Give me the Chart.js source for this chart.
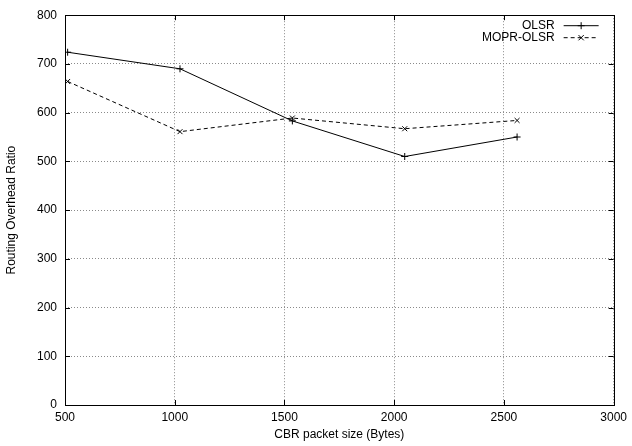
<!DOCTYPE html>
<html>
<head>
<meta charset="utf-8">
<script src="https://cdn.jsdelivr.net/npm/chart.js@4/dist/chart.umd.min.js"></script>
<style>
  html, body { margin: 0; padding: 0; background: #fff; }
  canvas { display: block; }
</style>
</head>
<body>
<canvas id="plot" width="632" height="446"></canvas>
<script>
// packet sizes (Bytes) and routing overhead ratio per protocol
let packetSizes = [512, 1024, 1536, 2048, 2560];
let olsr = [724, 690, 583, 510, 550];
let moprOlsr = [664, 561, 589, 567, 584];
let seriesNames = ['OLSR', 'MOPR-OLSR'];

function pairs(xs, ys) {
    return xs.map(function (x, i) { return {x: x, y: ys[i]}; });
}

Chart.defaults.font.family = "'Liberation Sans', Arial, sans-serif";
Chart.defaults.font.size = 12;
Chart.defaults.color = '#000';

// gnuplot style frame: full border + inward ticks on all sides
let framePlugin = {
    id: 'frame',
    afterDraw: function (chart) {
        let ctx = chart.ctx;
        let a = chart.chartArea;
        let xs = chart.scales.x, ys = chart.scales.y;
        let tl = 5;
        ctx.save();
        ctx.strokeStyle = '#000';
        ctx.lineWidth = 1;
        ctx.setLineDash([]);
        ctx.beginPath();
        xs.ticks.forEach(function (t) {
            let px = Math.round(xs.getPixelForValue(t.value)) + 0.5;
            ctx.moveTo(px, a.bottom); ctx.lineTo(px, a.bottom - tl);
            ctx.moveTo(px, a.top); ctx.lineTo(px, a.top + tl);
        });
        ys.ticks.forEach(function (t) {
            let py = Math.round(ys.getPixelForValue(t.value)) + 0.5;
            ctx.moveTo(a.left, py); ctx.lineTo(a.left + tl, py);
            ctx.moveTo(a.right, py); ctx.lineTo(a.right - tl, py);
        });
        ctx.stroke();
        ctx.strokeRect(Math.round(a.left) + 0.5, Math.round(a.top) + 0.5,
                       Math.round(a.right - a.left), Math.round(a.bottom - a.top));

        // key, top right
        let ds = chart.data.datasets;
        let textRight = a.right - 59;
        let y0 = a.top + 10;
        ctx.font = "12px 'Liberation Sans', Arial, sans-serif";
        ctx.textAlign = 'right';
        ctx.textBaseline = 'middle';
        ctx.fillStyle = '#000';
        ds.forEach(function (d, i) {
            let y = y0 + i * 12 + 0.5;
            ctx.fillText(d.label, textRight, y);
            let x1 = textRight + 9, x2 = a.right - 15;
            ctx.setLineDash(d.borderDash || []);
            ctx.beginPath();
            ctx.moveTo(x1, y); ctx.lineTo(x2, y);
            ctx.stroke();
            ctx.setLineDash([]);
            let cx = (x1 + x2) / 2, r = 3.5;
            ctx.beginPath();
            if (d.pointStyle === 'cross') {
                ctx.moveTo(cx - r, y); ctx.lineTo(cx + r, y);
                ctx.moveTo(cx, y - r); ctx.lineTo(cx, y + r);
            } else {
                let q = r * 0.75;
                ctx.moveTo(cx - q, y - q); ctx.lineTo(cx + q, y + q);
                ctx.moveTo(cx - q, y + q); ctx.lineTo(cx + q, y - q);
            }
            ctx.stroke();
        });
        ctx.restore();
    }
};

let ctx = document.getElementById('plot').getContext('2d');
let chart = new Chart(ctx, {
    type: 'line',
    data: {
        datasets: [{
            label: seriesNames[0],
            data: pairs(packetSizes, olsr),
            borderColor: '#000',
            borderWidth: 1,
            pointStyle: 'cross',
            pointRadius: 3.5,
            pointBorderColor: '#000',
            pointBorderWidth: 1,
            fill: false,
            tension: 0
        }, {
            label: seriesNames[1],
            data: pairs(packetSizes, moprOlsr),
            borderColor: '#000',
            borderWidth: 1,
            borderDash: [4, 3],
            pointStyle: 'crossRot',
            pointRadius: 3.5,
            pointBorderColor: '#000',
            pointBorderWidth: 1,
            fill: false,
            tension: 0
        }]
    },
    options: {
        responsive: false,
        animation: false,
        layout: { padding: { top: 13, right: 15, left: 0, bottom: 0 } },
        plugins: {
            legend: { display: false },
            tooltip: { enabled: false }
        },
        scales: {
            x: {
                type: 'linear',
                min: 500,
                max: 3000,
                ticks: {
                    stepSize: 500,
                    padding: 5,
                    color: '#000',
                    callback: function (v) { return String(v); }
                },
                grid: { color: '#8a8a8a', lineWidth: 1, drawTicks: false },
                border: { display: false, dash: [1, 2] },
                title: {
                    display: true,
                    text: 'CBR packet size (Bytes)',
                    padding: { top: 4, bottom: 4 }
                },
                afterFit: function (scale) { scale.height = 41; }
            },
            y: {
                min: 0,
                max: 800,
                ticks: {
                    stepSize: 100,
                    padding: 8,
                    color: '#000'
                },
                grid: { color: '#8a8a8a', lineWidth: 1, drawTicks: false },
                border: { display: false, dash: [1, 2] },
                title: {
                    display: true,
                    text: 'Routing Overhead Ratio',
                    padding: { top: 4, bottom: 4 }
                },
                afterFit: function (scale) { scale.width = 65; }
            }
        }
    },
    plugins: [framePlugin]
});
</script>
</body>
</html>
